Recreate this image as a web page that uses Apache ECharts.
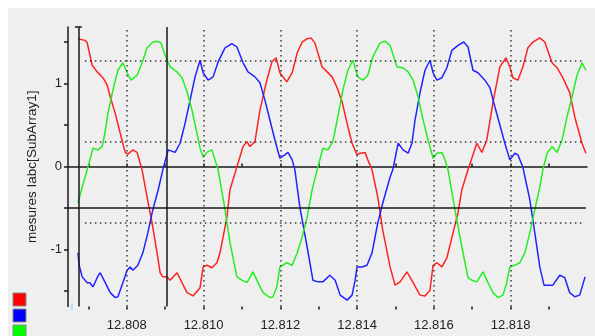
<!DOCTYPE html>
<html>
<head>
<meta charset="utf-8">
<script src="https://cdn.jsdelivr.net/npm/echarts@6/dist/echarts.min.js"></script>
<style>
html,body{margin:0;padding:0;background:#fff;}
#c{width:595px;height:336px;}
</style>
</head>
<body>
<div id="c"></div>
<script>
// ---- data (time in s, value in y-axis units) ----
const redT = [12.80673,12.80691,12.80697,12.80710,12.80723,12.80738,12.80749,12.80757,12.80770,12.80783,12.80796,12.80803,12.80816,12.80827,12.80835,12.80840,12.80853,12.80866,12.80879,12.80887,12.80894,12.80905,12.80913,12.80931,12.80957,12.80973,12.80991,12.80999,12.81009,12.81022,12.81035,12.81043,12.81051,12.81061,12.81069,12.81082,12.81103,12.81113,12.81121,12.81134,12.81147,12.81165,12.81178,12.81189,12.81199,12.81217,12.81231,12.81244,12.81257,12.81270,12.81280,12.81290,12.81309,12.81322,12.81335,12.81348,12.81361,12.81374,12.81387,12.81400,12.81408,12.81421,12.81428,12.81439,12.81454,12.81467,12.81486,12.81499,12.81512,12.81530,12.81546,12.81564,12.81577,12.81590,12.81598,12.81608,12.81621,12.81634,12.81650,12.81663,12.81673,12.81689,12.81712,12.81725,12.81738,12.81754,12.81772,12.81788,12.81798,12.81806,12.81819,12.81832,12.81845,12.81858,12.81876,12.81889,12.81908,12.81921,12.81936,12.81954,12.81967,12.81986,12.81996];
const redV = [1.54,1.52,1.49,1.22,1.14,1.07,0.98,0.84,0.64,0.40,0.17,0.15,0.20,0.17,0.04,-0.04,-0.37,-0.68,-1.04,-1.28,-1.33,-1.33,-1.37,-1.28,-1.52,-1.56,-1.46,-1.21,-1.19,-1.22,-1.16,-1.04,-0.85,-0.61,-0.28,-0.08,0.24,0.30,0.24,0.30,0.68,1.04,1.26,1.31,1.13,1.02,1.13,1.37,1.50,1.54,1.55,1.49,1.20,1.14,1.08,0.95,0.78,0.52,0.28,0.14,0.16,0.17,0.08,-0.04,-0.37,-0.77,-1.21,-1.43,-1.39,-1.27,-1.40,-1.55,-1.56,-1.49,-1.19,-1.16,-1.21,-1.10,-0.80,-0.56,-0.28,-0.04,0.28,0.17,0.32,0.77,1.20,1.31,1.20,1.07,1.04,1.20,1.43,1.50,1.55,1.50,1.25,1.19,1.07,0.89,0.60,0.28,0.16];

const blueT = [12.80673,12.80676,12.80684,12.80697,12.80704,12.80712,12.80723,12.80731,12.80743,12.80757,12.80770,12.80777,12.80790,12.80801,12.80809,12.80816,12.80829,12.80842,12.80855,12.80868,12.80882,12.80894,12.80908,12.80926,12.80939,12.80952,12.80965,12.80978,12.80991,12.80999,12.81012,12.81025,12.81038,12.81056,12.81074,12.81087,12.81103,12.81116,12.81134,12.81147,12.81160,12.81173,12.81186,12.81199,12.81212,12.81220,12.81231,12.81238,12.81251,12.81270,12.81285,12.81298,12.81311,12.81329,12.81343,12.81356,12.81374,12.81387,12.81395,12.81400,12.81413,12.81426,12.81439,12.81454,12.81467,12.81486,12.81493,12.81507,12.81520,12.81533,12.81543,12.81551,12.81564,12.81577,12.81590,12.81598,12.81608,12.81621,12.81634,12.81647,12.81663,12.81678,12.81689,12.81702,12.81715,12.81733,12.81746,12.81759,12.81772,12.81785,12.81798,12.81811,12.81819,12.81832,12.81850,12.81863,12.81876,12.81887,12.81897,12.81910,12.81928,12.81941,12.81954,12.81967,12.81980,12.81994];
const blueV = [-1.04,-1.19,-1.33,-1.40,-1.40,-1.45,-1.34,-1.28,-1.39,-1.52,-1.58,-1.57,-1.40,-1.25,-1.21,-1.25,-1.19,-1.04,-0.80,-0.52,-0.28,-0.04,0.20,0.17,0.28,0.52,0.80,1.08,1.28,1.13,1.04,1.08,1.26,1.43,1.48,1.44,1.25,1.14,1.08,1.01,0.80,0.56,0.32,0.10,0.14,0.17,0.08,-0.04,-0.49,-0.97,-1.37,-1.39,-1.39,-1.31,-1.37,-1.55,-1.61,-1.55,-1.37,-1.21,-1.21,-1.19,-1.04,-0.68,-0.44,-0.13,-0.04,0.28,0.20,0.16,0.28,0.56,0.89,1.16,1.28,1.13,1.04,1.07,1.19,1.40,1.46,1.50,1.44,1.16,1.13,1.04,0.95,0.72,0.50,0.28,0.08,0.16,0.14,-0.01,-0.40,-0.80,-1.21,-1.43,-1.43,-1.43,-1.31,-1.34,-1.52,-1.57,-1.55,-1.33];

const greenT = [12.80673,12.80684,12.80697,12.80704,12.80712,12.80725,12.80736,12.80743,12.80751,12.80764,12.80777,12.80790,12.80801,12.80811,12.80827,12.80840,12.80853,12.80868,12.80879,12.80889,12.80900,12.80913,12.80931,12.80944,12.80957,12.80970,12.80983,12.80991,12.80999,12.81009,12.81022,12.81030,12.81038,12.81056,12.81069,12.81087,12.81100,12.81113,12.81129,12.81142,12.81155,12.81173,12.81181,12.81191,12.81199,12.81217,12.81231,12.81244,12.81257,12.81270,12.81283,12.81296,12.81311,12.81324,12.81337,12.81350,12.81363,12.81376,12.81389,12.81402,12.81415,12.81428,12.81441,12.81460,12.81473,12.81486,12.81504,12.81520,12.81533,12.81546,12.81559,12.81572,12.81585,12.81598,12.81608,12.81621,12.81629,12.81637,12.81655,12.81673,12.81689,12.81699,12.81712,12.81728,12.81741,12.81754,12.81767,12.81780,12.81790,12.81798,12.81811,12.81824,12.81837,12.81850,12.81863,12.81876,12.81884,12.81895,12.81908,12.81921,12.81934,12.81947,12.81960,12.81973,12.81986,12.81991,12.81996];
const greenV = [-0.44,-0.25,-0.04,0.08,0.22,0.20,0.24,0.40,0.64,0.92,1.16,1.25,1.13,1.04,1.10,1.25,1.43,1.50,1.51,1.49,1.34,1.20,1.14,1.07,0.90,0.68,0.40,0.22,0.11,0.17,0.20,0.08,-0.04,-0.52,-0.92,-1.33,-1.37,-1.40,-1.27,-1.40,-1.52,-1.58,-1.57,-1.45,-1.21,-1.16,-1.19,-1.04,-0.85,-0.61,-0.28,-0.04,0.22,0.20,0.30,0.60,0.92,1.16,1.28,1.08,1.04,1.10,1.32,1.49,1.51,1.46,1.20,1.19,1.14,1.04,0.84,0.56,0.32,0.10,0.16,0.17,0.08,-0.04,-0.52,-0.97,-1.34,-1.37,-1.39,-1.27,-1.40,-1.52,-1.58,-1.55,-1.40,-1.21,-1.19,-1.16,-1.04,-0.80,-0.52,-0.25,-0.04,0.16,0.24,0.17,0.32,0.60,0.84,1.10,1.25,1.26,1.16];

// axis ticks / labels
const xLabelValues = [12.808, 12.810, 12.812, 12.814, 12.816, 12.818];
const xTickValues = [12.807, 12.808, 12.809, 12.810, 12.811, 12.812, 12.813, 12.814, 12.815, 12.816, 12.817, 12.818, 12.819];
const yLabelValues = [-1, 0, 1];
const yTickValues = [-1.5, -1, -0.5, 0, 0.5, 1, 1.5];

// cursors and reference (dotted) levels
const cursorTimes = [12.80674, 12.80903];
const cursorLevel = -0.5;
const refLevels = [1.28, 0.30, -0.68];
const xMin = 12.80647, xMax = 12.81999;
const yMin = -1.687, yMax = 1.681;
const yAxisName = 'mesures Iabc[SubArray1]';

const pairs = (t, v) => t.map((x, i) => [x, v[i]]);

const dotted = { color: '#3a3a3a', width: 1.5, type: [1.5, 3.5] };
const solid = { color: '#1a1a1a', width: 1.5, type: 'solid' };

const markData = [];
xLabelValues.forEach(x => markData.push([{ coord: [x, yMin], lineStyle: dotted }, { coord: [x, yMax] }]));
refLevels.forEach(y => markData.push([{ coord: [12.80691, y], lineStyle: dotted }, { coord: [12.81986, y] }]));
cursorTimes.forEach(x => markData.push([{ coord: [x, yMin], lineStyle: solid }, { coord: [x, yMax] }]));
markData.push([{ coord: [xMin, cursorLevel], lineStyle: solid }, { coord: [12.81996, cursorLevel] }]);
markData.push([{ coord: [12.80665, yMax], lineStyle: solid }, { coord: [12.80683, yMax] }]);

const chart = echarts.init(document.getElementById('c'), null, { renderer: 'canvas' });
const font = 'Liberation Sans, Arial, sans-serif';
chart.setOption({
  animation: false,
  backgroundColor: '#ffffff',
  textStyle: { fontFamily: font },
  graphic: [
    { type: 'rect', shape: { x: 8, y: 8, width: 587, height: 328 }, style: { fill: '#efefef' }, z: -10, silent: true },
    { type: 'rect', shape: { x: 13, y: 293, width: 13, height: 13 }, style: { fill: '#ff0000', stroke: '#8a8a8a', lineWidth: 1 }, silent: true },
    { type: 'rect', shape: { x: 13, y: 309, width: 13, height: 13 }, style: { fill: '#0000ff', stroke: '#8a8a8a', lineWidth: 1 }, silent: true },
    { type: 'rect', shape: { x: 13, y: 325, width: 13, height: 13 }, style: { fill: '#00ff00', stroke: '#8a8a8a', lineWidth: 1 }, silent: true },
    { type: 'line', shape: { x1: 72, y1: 303, x2: 72, y2: 310 }, style: { stroke: '#a8d4ff', lineWidth: 1.5 }, silent: true }
  ],
  grid: { left: 68, right: 8, top: 27, bottom: 29.5, containLabel: false },
  xAxis: [
    {
      type: 'value', min: xMin, max: xMax,
      axisLine: { show: true, lineStyle: { color: '#1a1a1a', width: 1.5 } },
      axisTick: { show: true, inside: true, length: 3, customValues: xTickValues, lineStyle: { color: '#1a1a1a', width: 1.5 } },
      axisLabel: { customValues: xLabelValues, formatter: v => v.toFixed(3), color: '#222', fontSize: 13, margin: 12, fontFamily: font },
      splitLine: { show: false }
    },
    {
      type: 'value', min: xMin, max: xMax, position: 'bottom',
      axisLine: { show: false },
      axisTick: { show: true, inside: false, length: 3, customValues: xTickValues, lineStyle: { color: '#1a1a1a', width: 1.5 } },
      axisLabel: { show: false },
      splitLine: { show: false }
    }
  ],
  yAxis: {
    type: 'value', min: yMin, max: yMax,
    name: yAxisName, nameLocation: 'middle', nameRotate: 90, nameGap: 26,
    nameTextStyle: { fontSize: 13.5, color: '#222', fontFamily: font },
    axisLine: { show: true, lineStyle: { color: '#1a1a1a', width: 1.5 } },
    axisTick: { show: true, inside: false, length: 4, customValues: yTickValues, lineStyle: { color: '#1a1a1a', width: 1.5 } },
    axisLabel: { customValues: yLabelValues, color: '#222', fontSize: 13, margin: 6, fontFamily: font },
    splitLine: { show: false }
  },
  series: [
    {
      type: 'line', data: [], silent: true, z: 1,
      markLine: { silent: true, symbol: 'none', label: { show: false }, animation: false, data: markData }
    },
    { name: 'a', type: 'line', data: pairs(redT, redV), showSymbol: false, lineStyle: { color: '#ff2222', width: 1.5 }, itemStyle: { color: '#ff2222' }, z: 3 },
    { name: 'b', type: 'line', data: pairs(blueT, blueV), showSymbol: false, lineStyle: { color: '#2222ff', width: 1.5 }, itemStyle: { color: '#2222ff' }, z: 3 },
    { name: 'c', type: 'line', data: pairs(greenT, greenV), showSymbol: false, lineStyle: { color: '#22ee22', width: 1.5 }, itemStyle: { color: '#22ee22' }, z: 3 }
  ]
});
</script>
</body>
</html>
